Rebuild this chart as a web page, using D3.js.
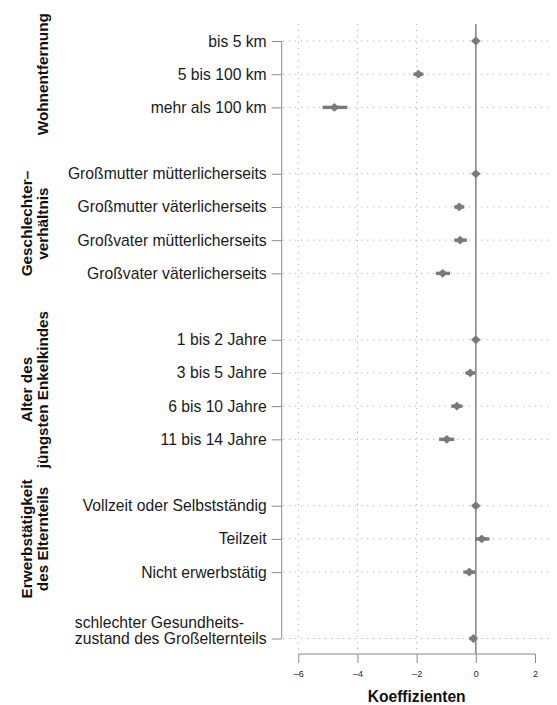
<!DOCTYPE html>
<html lang="de">
<head>
    <meta charset="UTF-8">
    <title>Koeffizienten</title>
    <script src="https://cdn.jsdelivr.net/npm/d3@7"></script>
    <style>
      body { margin: 0; background: #fff; }
      svg text { font-family: "Liberation Sans", Arial, Helvetica, sans-serif; }
    </style>
</head>
<body>
<div id="chart"></div>
<script>
  // categories, top to bottom
  const categories = [
    "bis 5 km", "5 bis 100 km", "mehr als 100 km",
    "Großmutter mütterlicherseits", "Großmutter väterlicherseits",
    "Großvater mütterlicherseits", "Großvater väterlicherseits",
    "1 bis 2 Jahre", "3 bis 5 Jahre", "6 bis 10 Jahre", "11 bis 14 Jahre",
    "Vollzeit oder Selbstständig", "Teilzeit", "Nicht erwerbstätig",
    "schlechter Gesundheits-\nzustand des Großelternteils"
  ];
  const groupOf = [0, 0, 0, 1, 1, 1, 1, 2, 2, 2, 2, 3, 3, 3, 4];
  const groupTitles = [
    ["Wohnentfernung"],
    ["Geschlechter–", "verhältnis"],
    ["Alter des", "jüngsten Enkelkindes"],
    ["Erwerbstätigkeit", "des Elternteils"],
    []
  ];
  const coef   = [0, -1.94, -4.78, 0, -0.56, -0.53, -1.12, 0, -0.19, -0.64, -0.98, 0, 0.20, -0.22, -0.08];
  const ciLow  = [0, -2.11, -5.18, 0, -0.73, -0.73, -1.35, 0, -0.35, -0.83, -1.24, 0, -0.02, -0.42, -0.22];
  const ciHigh = [0, -1.77, -4.34, 0, -0.39, -0.30, -0.87, 0, -0.02, -0.45, -0.73, 0, 0.46, -0.02, 0.03];
  const xTicks = [-6, -4, -2, 0, 2];
  const xTickLabels = ["–6", "–4", "–2", "0", "2"];
  const gridTicks = [-6, -4, -2];
  const xTitle = "Koeffizienten";

  const width = 557, height = 705;
  const plotTop = 24, plotBottom = 654, plotLeft = 283, plotRight = 551;
  const axisX = 281.7;
  const grey = "#8a8a8a", dotGrey = "#b0b0b0", markGrey = "#7a7a7a";

  // each group leaves one empty slot after it
  const slot = categories.map((d, i) => i + groupOf[i]);

  const x = d3.scaleLinear().domain([-6, 2]).range([298.3, 535]);
  const y = d3.scaleLinear().domain([0, 18]).range([41, 638.5]);

  const svg = d3.select("#chart").append("svg")
      .attr("width", width)
      .attr("height", height);

  // horizontal dotted grid
  svg.append("g")
      .selectAll("line")
      .data(slot)
      .join("line")
        .attr("x1", plotLeft).attr("x2", plotRight)
        .attr("y1", d => y(d)).attr("y2", d => y(d))
        .attr("stroke", dotGrey)
        .attr("stroke-width", 1)
        .attr("stroke-dasharray", "1.2,4.8");

  // vertical dotted grid
  svg.append("g")
      .selectAll("line")
      .data(gridTicks)
      .join("line")
        .attr("x1", d => x(d)).attr("x2", d => x(d))
        .attr("y1", plotTop).attr("y2", plotBottom)
        .attr("stroke", dotGrey)
        .attr("stroke-width", 1)
        .attr("stroke-dasharray", "1.2,4.8");

  // zero line
  svg.append("line")
      .attr("x1", x(0)).attr("x2", x(0))
      .attr("y1", plotTop).attr("y2", plotBottom)
      .attr("stroke", grey)
      .attr("stroke-width", 1.6);

  // y axis
  const yAxis = svg.append("g")
      .attr("transform", `translate(${axisX},0)`)
      .call(d3.axisLeft(y).tickValues(slot).tickSize(10).tickFormat(""));
  yAxis.select(".domain")
      .attr("d", `M0,${y(0)}V${y(18)}`)
      .attr("stroke", grey);
  yAxis.selectAll(".tick line").attr("stroke", grey);

  // category labels
  const labels = svg.append("g")
      .attr("font-size", 15.7)
      .attr("fill", "#1a1a1a");
  categories.forEach((c, i) => {
    const lines = c.split("\n");
    const t = labels.append("text")
        .attr("x", 266.7)
        .attr("y", y(slot[i]) + 5.5)
        .attr("text-anchor", "end")
        .text(lines[lines.length - 1]);
    if (lines.length > 1) {
      const start = 266.7 - t.node().getComputedTextLength();
      lines.slice(0, -1).reverse().forEach((l, k) => {
        labels.append("text")
            .attr("x", start)
            .attr("y", y(slot[i]) + 5.5 - 15.7 * (k + 1))
            .text(l);
      });
    }
  });

  // group titles
  groupTitles.forEach((lines, g) => {
    if (!lines.length) return;
    const members = slot.filter((s, i) => groupOf[i] === g);
    const cy = (y(d3.min(members)) + y(d3.max(members))) / 2;
    lines.forEach((l, k) => {
      const bx = 48 - 16 * (lines.length - 1 - k);
      svg.append("text")
          .attr("transform", `translate(${bx},${cy}) rotate(-90)`)
          .attr("text-anchor", "middle")
          .attr("font-size", 15.3)
          .attr("font-weight", "bold")
          .attr("fill", "#111")
          .text(l);
    });
  });

  // confidence intervals
  svg.append("g")
      .selectAll("line")
      .data(categories.map((c, i) => i))
      .join("line")
        .attr("x1", i => x(ciLow[i])).attr("x2", i => x(ciHigh[i]))
        .attr("y1", i => y(slot[i])).attr("y2", i => y(slot[i]))
        .attr("stroke", markGrey)
        .attr("stroke-width", 3.4);

  // estimates
  svg.append("g")
      .selectAll("path")
      .data(categories.map((c, i) => i))
      .join("path")
        .attr("d", i => {
          const cx = x(coef[i]), cy = y(slot[i]);
          return `M${cx - 4.8},${cy}L${cx},${cy - 4.4}L${cx + 4.8},${cy}L${cx},${cy + 4.4}Z`;
        })
        .attr("fill", markGrey);

  // x axis
  const xAxis = svg.append("g")
      .attr("transform", `translate(0,${plotBottom})`)
      .call(d3.axisBottom(x).tickValues(xTicks).tickSize(9).tickPadding(8)
        .tickFormat((d, i) => xTickLabels[i]));
  xAxis.select(".domain")
      .attr("d", `M${x(-6)},0H${x(2)}`)
      .attr("stroke", grey);
  xAxis.selectAll(".tick line").attr("stroke", grey);
  xAxis.selectAll(".tick text")
      .attr("font-size", 9)
      .attr("fill", "#222");

  svg.append("text")
      .attr("x", x(-2))
      .attr("y", 702)
      .attr("text-anchor", "middle")
      .attr("font-size", 15.6)
      .attr("font-weight", "bold")
      .attr("fill", "#111")
      .text(xTitle);
</script>
</body>
</html>
